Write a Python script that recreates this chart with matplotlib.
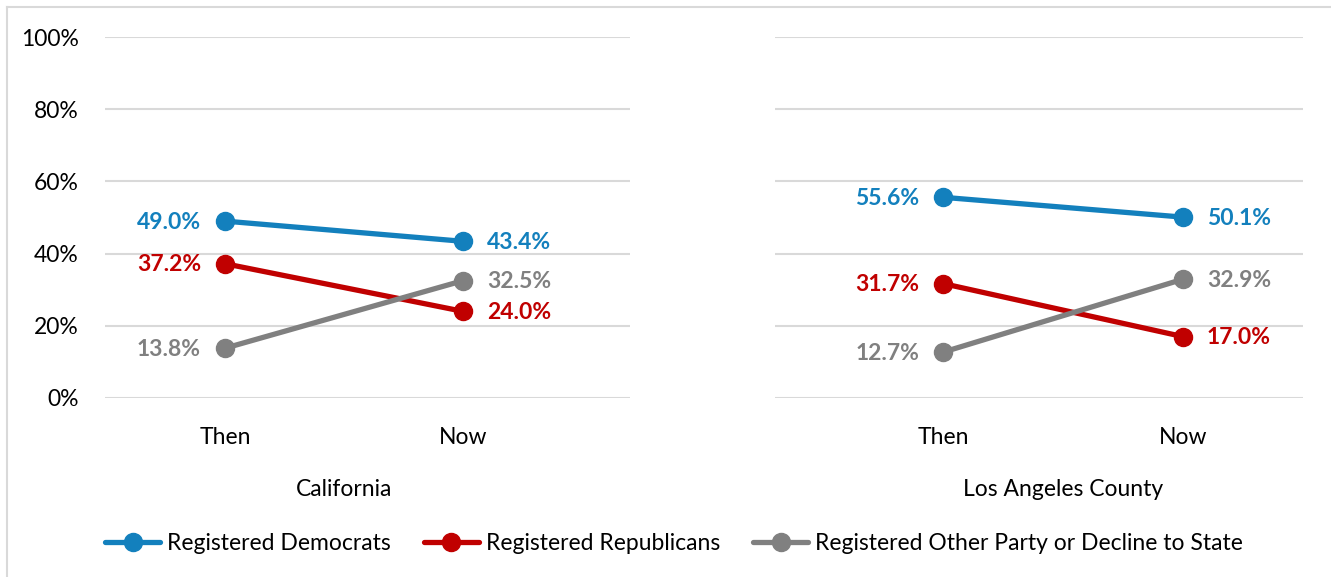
import matplotlib
matplotlib.use("Agg")
import matplotlib.pyplot as plt
from matplotlib.lines import Line2D
from matplotlib.transforms import blended_transform_factory

plt.rcParams['font.family'] = ['Lato', 'DejaVu Sans']

periods = ["Then", "Now"]
regions = ["California", "Los Angeles County"]
series_names = ["Registered Democrats", "Registered Republicans",
                "Registered Other Party or Decline to State"]
dem = {"California": [49.0, 43.4], "Los Angeles County": [55.6, 50.1]}
rep = {"California": [37.2, 24.0], "Los Angeles County": [31.7, 17.0]}
oth = {"California": [13.8, 32.5], "Los Angeles County": [12.7, 32.9]}
yticks = [0, 20, 40, 60, 80, 100]

colors = ["#1380BD", "#C00000", "#808080"]

W, H = 1331, 577
fig = plt.figure(figsize=(W / 100, H / 100), dpi=100)

def fx(px):
    return px / W

def fy(py):
    return 1 - py / H

panels = [
    (105, 630, 225, 463),
    (775, 1303, 943, 1183),
]
FS = 16.5

axes = []
for i, (region, (x0, x1, pthen, pnow)) in enumerate(zip(regions, panels)):
    ax = fig.add_axes([fx(x0), fy(398), fx(x1 - x0), fy(37) - fy(398)])
    unit = pnow - pthen
    ax.set_xlim(-(pthen - x0) / unit, 1 + (x1 - pnow) / unit)
    ax.set_ylim(0, 100)
    for s in ax.spines.values():
        s.set_visible(False)
    ax.set_yticks(yticks)
    ax.yaxis.grid(True, color="#D9D9D9", linewidth=1.5)
    ax.set_axisbelow(True)
    if i == 0:
        ax.set_yticklabels([f"{t}%" for t in yticks], fontsize=FS, color="#000000")
        ax.tick_params(axis="y", length=0, pad=19)
    else:
        ax.tick_params(axis="y", length=0, labelleft=False)
    ax.set_xticks([0, 1])
    ax.set_xticklabels(periods, fontsize=FS)
    ax.tick_params(axis="x", length=0, pad=21)
    ax.set_xlabel(region, fontsize=FS)
    tr = blended_transform_factory(ax.transData, ax.transAxes)
    ax.xaxis.set_label_coords(0.5, -(490 - 398) / (398 - 37), transform=tr)
    ax.xaxis.label.set_va("center")

    for vals, col, name in zip([dem[region], rep[region], oth[region]], colors, series_names):
        ax.plot([0, 1], vals, color=col, linewidth=3.8, marker="o", markersize=13,
                label=name, solid_capstyle="round")
        ax.annotate(f"{vals[0]:.1f}%", (0, vals[0]), xytext=(-24, -1),
                    textcoords="offset pixels", ha="right", va="center",
                    fontsize=FS, fontweight="bold", color=col)
        ax.annotate(f"{vals[1]:.1f}%", (1, vals[1]), xytext=(24, -1),
                    textcoords="offset pixels", ha="left", va="center",
                    fontsize=FS, fontweight="bold", color=col)
    axes.append(ax)

handles, labels = axes[0].get_legend_handles_labels()
fig.legend(handles, labels, loc="center", bbox_to_anchor=(fx(674), fy(544)),
           ncol=3, frameon=False, fontsize=FS, handlelength=2.4,
           handletextpad=0.3, columnspacing=1.45)

fig.add_artist(Line2D([fx(7), fx(7)], [0, fy(7)], color="#D9D9D9", linewidth=1.5))
fig.add_artist(Line2D([fx(7), 1], [fy(7), fy(7)], color="#D9D9D9", linewidth=1.5))

fig.savefig("out.png", dpi=100)
